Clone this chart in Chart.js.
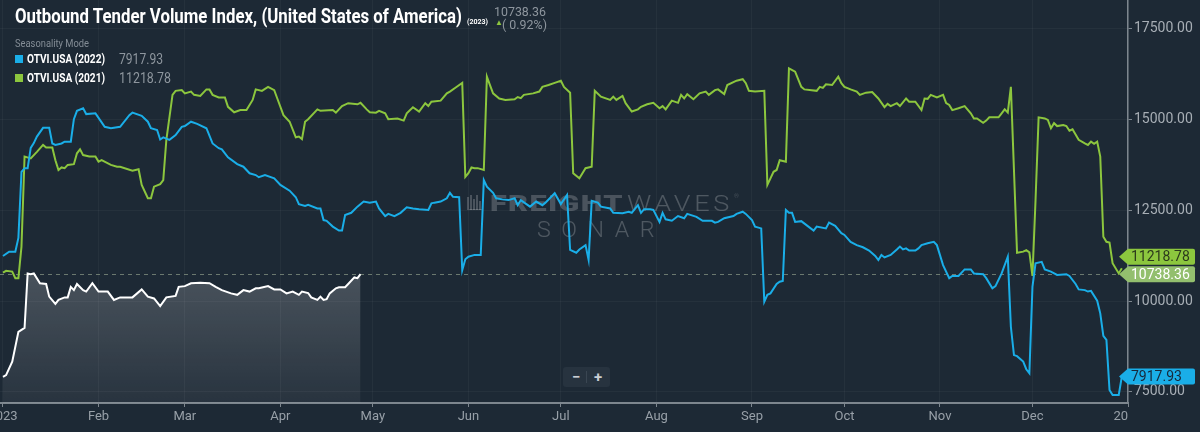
<!DOCTYPE html>
<html>
<head>
<meta charset="utf-8">
<script src="https://cdn.jsdelivr.net/npm/chart.js@4.4.1/dist/chart.umd.min.js"></script>
<style>
  html, body { margin: 0; padding: 0; background: #1d2935; }
  #wrap { position: relative; width: 1200px; height: 432px; overflow: hidden; font-family: Roboto, "Noto Sans", sans-serif; }
  #chart { position: absolute; left: 0; top: 0; }
  .t { position: absolute; white-space: nowrap; transform-origin: 0 50%; line-height: 1; }
  .sq { position: absolute; width: 8px; height: 8px; }
  #zoomBox { position: absolute; left: 563px; top: 367px; width: 47px; height: 20px; background: #27333f; border-radius: 3px; color: #c9ced3; font: bold 15px Roboto; }
  #zoomBox span { position: absolute; top: 1px; }
  #zoomBox i { position: absolute; left: 23px; top: 4px; width: 1px; height: 12px; background: #3a4652; }
</style>
</head>
<body>
<div id="wrap">
  <canvas id="chart" width="1200" height="432"></canvas>

  <div class="t" style="left:15px;top:6px;font-weight:bold;font-size:21px;color:#fff" data-w="447">Outbound Tender Volume Index, (United States of America)</div>
  <div class="t" style="left:467px;top:18px;font-weight:bold;font-size:8px;color:#fff" data-w="21">(2023)</div>
  <div class="t" style="left:494px;top:5px;font-size:13px;color:#8e969e" data-w="52">10738.36</div>
  <div class="t" style="left:495px;top:19px;font-size:8px;color:#8dc63f">&#9650;</div>
  <div class="t" style="left:502px;top:18px;font-size:13px;color:#8e969e" data-w="45">( 0.92%)</div>

  <div class="t" style="left:15px;top:39px;font-size:10px;color:#848d96" data-w="74">Seasonality Mode</div>
  <div class="sq" style="left:15px;top:55px;background:#1aaee8"></div>
  <div class="t" style="left:27px;top:53px;font-weight:bold;font-size:12px;color:#fff" data-w="78">OTVI.USA (2022)</div>
  <div class="t" style="left:119px;top:52px;font-size:14px;color:#8e969e" data-w="44">7917.93</div>
  <div class="sq" style="left:15px;top:74px;background:#8cc63e"></div>
  <div class="t" style="left:27px;top:72px;font-weight:bold;font-size:12px;color:#fff" data-w="78">OTVI.USA (2021)</div>
  <div class="t" style="left:119px;top:71px;font-size:14px;color:#8e969e" data-w="52">11218.78</div>

  <div id="zoomBox"><span style="left:9px">&minus;</span><i></i><span style="left:31px">+</span></div>
</div>

<script>
// day of year (0 = Jan 1) and index value
const series2023 = [
  [0,7910],[1,7960],[3,8330],[5,9150],[7,9260],[8,10760],[9,10740],[10,10760],[12,10490],[14,10470],
  [15,10120],[17,9920],[18,10030],[20,10100],[21,10100],[22,10390],[23,10300],[24,10470],[26,10300],[27,10260],
  [29,10490],[31,10260],[34,10260],[36,10030],[38,10100],[42,10100],[45,10320],[47,10120],[49,10070],[51,9860],
  [53,10100],[56,10140],[57,10390],[59,10410],[61,10490],[64,10500],[67,10490],[69,10390],[71,10300],[74,10210],
  [76,10170],[78,10300],[80,10260],[82,10350],[83,10350],[86,10410],[88,10320],[90,10320],[92,10210],[94,10260],
  [96,10170],[97,10260],[99,10220],[100,10100],[102,10030],[103,10120],[104,10030],[105,10050],[106,10210],[108,10350],
  [109,10380],[111,10380],[112,10470],[114,10650],[115,10630],[116,10738.36]
];

const series2022 = [
  [0,11240],[2,11360],[4,11360],[5,11740],[6,13560],[7,13660],[8,13660],[9,14220],[10,14350],[11,14530],
  [13,14770],[15,14770],[16,14340],[17,14300],[19,14340],[20,14390],[22,14390],[23,15010],[24,15240],[26,15310],
  [27,15150],[30,15170],[33,14800],[35,14760],[38,14800],[41,15120],[42,15190],[45,15100],[47,14940],[48,14760],
  [50,14710],[51,14450],[52,14510],[54,14440],[56,14570],[58,14800],[59,14820],[61,14940],[63,14880],[66,14760],
  [68,14340],[70,14210],[71,14180],[73,13960],[76,13770],[78,13700],[80,13520],[82,13470],[83,13410],[85,13470],
  [88,13380],[90,13200],[93,13040],[95,12860],[96,12670],[98,12620],[99,12650],[102,12550],[103,12550],[104,12230],
  [105,12210],[107,12050],[109,11940],[110,11940],[111,12370],[113,12430],[115,12600],[117,12740],[119,12710],[121,12740],
  [122,12550],[124,12340],[125,12400],[127,12340],[129,12430],[131,12580],[133,12550],[135,12530],[138,12510],[139,12690],
  [140,12710],[142,12740],[144,12830],[145,12980],[146,12870],[148,12860],[149,10850],[150,11150],[151,11220],[153,11270],
  [155,11270],[156,13330],[157,13150],[159,12980],[160,12830],[162,12800],[164,12780],[166,12830],[167,12640],[168,12780],
  [171,12600],[173,12740],[175,12640],[176,12710],[179,12970],[181,12670],[183,12920],[184,11410],[186,11330],[187,11420],
  [189,11540],[190,11130],[191,12760],[193,12710],[194,12600],[197,12550],[198,12430],[201,12420],[203,12460],[204,12430],
  [206,12640],[207,12430],[208,12530],[210,12530],[211,12510],[213,12180],[214,12430],[215,12250],[217,12210],[219,12340],
  [221,12280],[222,12400],[225,12320],[227,12210],[230,12210],[231,12160],[232,12180],[234,12280],[237,12340],[238,12400],
  [240,12460],[241,12400],[243,12230],[244,12050],[246,12000],[247,9980],[248,10170],[249,10210],[251,10470],[252,10530],
  [253,10550],[254,12510],[255,12430],[256,12430],[257,12180],[259,12200],[261,12070],[263,11940],[264,12050],[267,12000],
  [268,12160],[270,12070],[272,11870],[273,11820],[275,11630],[277,11540],[279,11480],[281,11390],[283,11240],[284,11130],
  [285,11270],[286,11200],[288,11270],[290,11420],[291,11500],[292,11420],[293,11450],[294,11390],[296,11390],[297,11450],
  [298,11540],[300,11590],[302,11630],[303,11540],[305,10990],[307,10630],[308,10690],[310,10690],[312,10870],[314,10870],
  [315,10760],[318,10740],[319,10630],[321,10350],[322,10410],[324,10760],[326,11220],[327,9290],[328,8510],[329,8480],
  [331,8330],[332,8120],[333,8010],[334,10390],[335,11040],[337,11080],[338,10870],[340,10810],[342,10720],[345,10740],
  [346,10690],[348,10470],[349,10320],[351,10300],[352,10260],[353,10280],[355,10010],[356,9660],[357,9040],[358,8930],
  [359,7550],[360,7410],[362,7410],[363,7920]
];

const series2021 = [
  [0,10780],[1,10830],[3,10810],[4,10630],[5,10630],[6,11500],[7,13980],[9,13930],[11,14110],[13,14300],
  [14,14230],[16,14230],[17,13880],[18,13610],[19,13680],[20,13660],[21,13750],[23,13770],[24,14070],[25,14180],
  [26,14020],[28,13980],[30,13980],[31,13840],[32,13880],[35,13750],[37,13700],[38,13700],[42,13590],[44,13630],
  [45,13200],[47,12830],[48,12830],[49,13150],[51,13220],[52,13330],[53,14440],[55,15680],[56,15790],[58,15810],
  [59,15720],[61,15770],[62,15680],[64,15650],[66,15830],[67,15830],[68,15680],[70,15610],[72,15610],[73,15350],
  [75,15200],[77,15260],[79,15260],[81,15540],[82,15830],[84,15790],[86,15900],[88,15810],[89,15580],[91,15120],
  [93,14940],[95,14510],[96,14530],[97,14460],[98,14940],[99,15010],[102,15280],[103,15240],[107,15260],[108,15190],
  [110,15370],[112,15450],[115,15420],[116,15460],[118,15280],[119,15200],[121,15190],[122,15240],[124,15170],[125,15010],
  [128,15030],[130,14970],[131,15170],[133,15340],[135,15220],[137,15450],[138,15370],[139,15490],[142,15520],[144,15720],
  [145,15770],[147,15890],[149,16010],[150,13420],[151,13520],[152,13680],[153,13660],[154,13660],[156,13610],[157,16180],
  [158,15950],[159,15720],[161,15580],[163,15540],[166,15560],[167,15620],[168,15590],[169,15680],[172,15720],[174,15770],
  [175,15900],[177,15950],[179,16010],[181,16070],[182,15900],[184,15740],[185,13520],[187,13380],[188,13520],[189,13660],
  [191,13700],[192,15790],[194,15630],[197,15540],[198,15630],[199,15540],[201,15650],[202,15450],[204,15220],[206,15280],
  [207,15350],[209,15420],[211,15460],[213,15310],[214,15370],[215,15280],[217,15520],[219,15460],[220,15680],[221,15580],
  [222,15700],[224,15560],[226,15720],[228,15770],[229,15680],[231,15810],[232,15830],[234,15700],[235,15950],[238,16070],
  [240,16110],[241,16000],[242,15790],[244,15770],[247,15790],[248,13200],[249,13380],[250,13560],[251,13610],[252,13880],
  [254,13840],[255,16410],[257,16320],[259,15900],[260,15830],[264,15790],[265,15900],[266,15870],[267,15970],[269,15950],
  [271,16180],[272,16000],[273,15900],[275,15830],[277,15770],[278,15680],[280,15740],[282,15760],[284,15580],[286,15340],
  [287,15430],[288,15370],[290,15450],[291,15370],[293,15580],[294,15490],[296,15490],[298,15260],[299,15580],[300,15570],
  [301,15680],[303,15610],[305,15680],[306,15450],[307,15400],[308,15260],[310,15310],[312,15370],[314,15170],[315,15030],
  [316,15030],[318,14910],[319,14970],[320,15060],[323,15060],[324,15170],[325,15280],[326,15190],[327,15900],[329,11330],
  [331,11360],[332,11400],[333,11340],[334,10690],[335,12780],[336,15060],[338,15030],[339,14990],[340,14760],[341,14900],
  [342,14820],[344,14850],[345,14820],[346,14690],[347,14730],[349,14440],[351,14340],[352,14300],[353,14390],[354,14330],
  [355,14390],[356,13980],[357,11770],[358,11630],[359,11610],[360,11040],[362,10760],[363,10900]
];

const monthTicks  = [0, 31, 59, 90, 120, 151, 181, 212, 243, 273, 304, 334, 365];
const monthLabels = ['2023', 'Feb', 'Mar', 'Apr', 'May', 'Jun', 'Jul', 'Aug', 'Sep', 'Oct', 'Nov', 'Dec', '2024'];
const yTicks = [7500, 10000, 12500, 15000, 17500];

const currentValue = 10738.36;
const badges = [
  { value: 11218.78, fill: '#8cc63e', text: '#2c3a1c' },
  { value: 10738.36, fill: '#93bf6e', text: '#ffffff' },
  { value: 7917.93,  fill: '#1aaee8', text: '#17283a' }
];

// x labels clipped to the plot width, as in the source chart
class ClipLinear extends Chart.LinearScale {
  drawLabels(area) {
    const c = this.ctx, a = this.chart.chartArea;
    c.save();
    c.beginPath();
    c.rect(a.left, a.bottom, a.right - a.left, this.chart.height - a.bottom);
    c.clip();
    super.drawLabels(area);
    c.restore();
  }
}
ClipLinear.id = 'clipLinear';
ClipLinear.defaults = Chart.LinearScale.defaults;
Chart.register(ClipLinear);

function fitText(c, text, x, y, w) {
  const m = c.measureText(text).width;
  c.save();
  c.translate(x, y);
  c.scale(w / m, 1);
  c.fillText(text, 0, 0);
  c.restore();
}

const backdrop = {
  id: 'backdrop',
  beforeDatasetsDraw(chart) {
    const c = chart.ctx, a = chart.chartArea, ys = chart.scales.y;
    c.save();
    // watermark
    c.fillStyle = 'rgba(255,255,255,0.2)';
    const bars = [[467, 197, 12], [470, 195, 15], [473, 199, 11], [476, 195, 15], [479, 201, 9]];
    bars.forEach(b => c.fillRect(b[0], b[1], 2, b[2]));
    c.fillRect(467, 209, 15, 1);
    c.textBaseline = 'alphabetic';
    c.textAlign = 'left';
    c.font = '900 22px Roboto';
    c.letterSpacing = '1px';
    fitText(c, 'FREIGHT', 490, 211, 134);
    c.fillStyle = 'rgba(255,255,255,0.22)';
    c.font = '300 22px Roboto';
    c.letterSpacing = '3px';
    fitText(c, 'WAVES', 627, 211, 106);
    c.font = '300 6px Roboto';
    c.letterSpacing = '0px';
    c.fillText('\u00AE', 734, 198);
    c.font = '300 22px Roboto';
    c.letterSpacing = '10px';
    fitText(c, 'SONAR', 537, 237, 128);
    c.letterSpacing = '0px';
    // current value line
    const y = Math.round(ys.getPixelForValue(currentValue)) + 0.5;
    c.strokeStyle = 'rgba(160,175,150,0.6)';
    c.lineWidth = 1;
    c.setLineDash([4, 4]);
    c.beginPath();
    c.moveTo(a.left, y);
    c.lineTo(a.right, y);
    c.stroke();
    c.restore();
  }
};

const valueBadges = {
  id: 'valueBadges',
  afterDraw(chart) {
    const c = chart.ctx, a = chart.chartArea, ys = chart.scales.y;
    c.save();
    c.font = '14px Roboto';
    c.textBaseline = 'middle';
    c.textAlign = 'left';
    badges.forEach(b => {
      const y = ys.getPixelForValue(b.value);
      const x0 = a.right - 9, x1 = a.right, x2 = 1195, h = 8;
      c.fillStyle = b.fill;
      c.beginPath();
      c.moveTo(x0, y);
      c.lineTo(x1, y - h);
      c.lineTo(x2 - 2, y - h);
      c.quadraticCurveTo(x2, y - h, x2, y - h + 2);
      c.lineTo(x2, y + h - 2);
      c.quadraticCurveTo(x2, y + h, x2 - 2, y + h);
      c.lineTo(x1, y + h);
      c.closePath();
      c.fill();
      c.fillStyle = b.text;
      c.fillText(b.value.toFixed(2), x1 + 3, y + 1);
    });
    c.restore();
  }
};

const toXY = s => s.map(p => ({ x: p[0], y: p[1] }));

const ctx = document.getElementById('chart').getContext('2d');
new Chart(ctx, {
  type: 'line',
  data: {
    datasets: [
      {
        label: 'OTVI.USA (2023)',
        data: toXY(series2023),
        borderColor: '#ffffff',
        borderWidth: 2,
        fill: 'start',
        backgroundColor: (context) => {
          const chart = context.chart, a = chart.chartArea;
          if (!a) return 'rgba(255,255,255,0.1)';
          const g = chart.ctx.createLinearGradient(0, a.top + 270, 0, a.bottom);
          g.addColorStop(0, 'rgba(255,255,255,0.2)');
          g.addColorStop(1, 'rgba(255,255,255,0.05)');
          return g;
        }
      },
      {
        label: 'OTVI.USA (2022)',
        data: toXY(series2022),
        borderColor: '#1aaee8',
        borderWidth: 2,
        fill: false
      },
      {
        label: 'OTVI.USA (2021)',
        data: toXY(series2021),
        borderColor: '#8cc63e',
        borderWidth: 2,
        fill: false
      }
    ]
  },
  options: {
    responsive: false,
    animation: false,
    layout: { padding: 0 },
    elements: { point: { radius: 0 }, line: { tension: 0 } },
    plugins: { legend: { display: false }, tooltip: { enabled: false } },
    scales: {
      x: {
        type: 'clipLinear',
        min: -0.97,
        max: 365,
        afterBuildTicks: s => { s.ticks = monthTicks.map(v => ({ value: v })); },
        afterFit: s => { s.height = 29; s.paddingLeft = 0; s.paddingRight = 0; },
        ticks: {
          autoSkip: false,
          maxRotation: 0,
          padding: 2,
          color: '#98a0a8',
          font: { family: 'Roboto', size: 13 },
          callback: v => monthLabels[monthTicks.indexOf(v)]
        },
        grid: { color: 'rgba(255,255,255,0.04)', tickColor: '#7d868e', tickLength: 4 },
        border: { display: true, color: '#7d868e', width: 2 }
      },
      y: {
        position: 'right',
        min: 7190,
        max: 18293,
        afterBuildTicks: s => { s.ticks = yTicks.map(v => ({ value: v })); },
        afterFit: s => { s.width = 72; s.paddingTop = 0; s.paddingBottom = 0; },
        ticks: {
          padding: 2,
          color: '#a7aeb5',
          font: { family: 'Roboto', size: 14 },
          callback: v => v.toFixed(2)
        },
        grid: { color: 'rgba(255,255,255,0.04)', tickColor: '#7d868e', tickLength: 4 },
        border: { display: true, color: '#7d868e', width: 1.5 }
      }
    }
  },
  plugins: [backdrop, valueBadges]
});

// squeeze header texts to the widths of the source layout
document.querySelectorAll('[data-w]').forEach(el => {
  const w = el.getBoundingClientRect().width;
  el.style.transform = 'scaleX(' + (Number(el.dataset.w) / w) + ')';
});
</script>
</body>
</html>
